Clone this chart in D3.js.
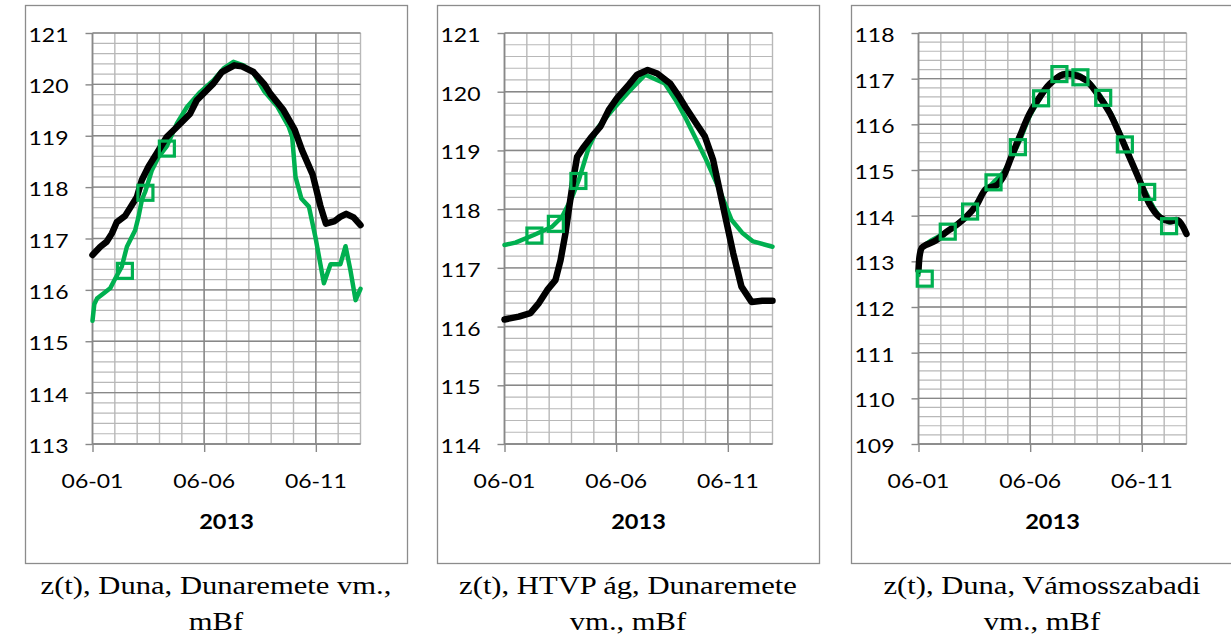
<!DOCTYPE html>
<html>
<head>
<meta charset="utf-8">
<script src="https://cdn.jsdelivr.net/npm/d3@7"></script>
<style>
  html, body { margin: 0; padding: 0; background: #fff; }
  svg { display: block; }
</style>
</head>
<body>
<svg id="chart" width="1231" height="639"></svg>
<script>
// ---------------- DATA (day offset from 06-01, water level mBf) ----------------
const xTickDays = [0, 5, 10];
const xTickLabels = ["06-01", "06-06", "06-11"];
const xTitle = "2013";

// Panel 1: Duna, Dunaremete
const p1Measured = [[0,116.68],[0.35,116.84],[0.64,116.94],[0.87,117.10],[1.09,117.32],[1.46,117.44],[1.76,117.65],[1.99,117.81],[2.21,118.14],[2.51,118.40],[2.88,118.66],[3.33,118.98],[3.78,119.17],[4.37,119.43],[4.67,119.69],[5.42,120.02],[5.79,120.24],[6.35,120.37],[6.69,120.35],[7.21,120.24],[7.70,120.00],[7.96,119.82],[8.55,119.50],[9.05,119.12],[9.38,118.72],[9.86,118.24],[10.20,117.64],[10.45,117.29],[10.85,117.34],[11.09,117.42],[11.36,117.48],[11.69,117.41],[12,117.26]];
const p1Model = [[0,115.40],[0.08,115.72],[0.2,115.83],[0.49,115.93],[0.79,116.03],[1.02,116.22],[1.31,116.45],[1.54,116.84],[1.91,117.16],[2.06,117.42],[2.21,117.75],[2.36,117.91],[2.66,118.33],[2.96,118.59],[3.33,118.80],[3.78,119.24],[4.23,119.56],[4.82,119.85],[5.42,120.08],[5.87,120.31],[6.31,120.44],[6.76,120.37],[7.21,120.22],[7.70,119.86],[8.26,119.58],[8.79,119.17],[8.94,118.98],[9.09,118.20],[9.35,117.78],[9.69,117.62],[9.98,117.03],[10.36,116.13],[10.66,116.50],[11.10,116.50],[11.33,116.85],[11.55,116.38],[11.78,115.80],[12,116.02]];
const p1Points = [[1.45,116.37],[2.37,117.89],[3.33,118.75]];

// Panel 2: HTVP ág, Dunaremete
const p2Measured = [[0,116.12],[0.64,116.17],[1.16,116.23],[1.54,116.40],[1.91,116.62],[2.28,116.79],[2.51,117.13],[2.73,117.59],[2.88,117.99],[3.10,118.55],[3.25,118.89],[3.55,119.06],[3.85,119.21],[4.30,119.41],[4.67,119.69],[5.04,119.89],[5.57,120.12],[5.94,120.29],[6.41,120.37],[6.84,120.31],[7.42,120.14],[7.81,119.92],[8.10,119.74],[8.60,119.45],[8.97,119.24],[9.34,118.84],[9.79,118.04],[10.24,117.25],[10.61,116.68],[11.06,116.42],[11.54,116.44],[12,116.44]];
const p2Model = [[0,117.39],[0.49,117.43],[1.31,117.56],[2.13,117.70],[2.58,117.87],[3.03,118.21],[3.33,118.50],[3.78,119.06],[4.22,119.41],[4.97,119.75],[5.64,120.03],[6.30,120.29],[7.18,120.14],[7.66,119.86],[8.07,119.58],[8.50,119.25],[8.97,118.89],[9.57,118.38],[10.16,117.82],[10.64,117.60],[11.13,117.45],[12,117.36]];
const p2Points = [[1.34,117.55],[2.30,117.75],[3.31,118.48]];

// Panel 3: Duna, Vámosszabadi
const p3Measured = [[0,112.80],[0.06,113.15],[0.15,113.30],[0.34,113.36],[0.79,113.46],[1.24,113.64],[1.69,113.79],[2.13,113.97],[2.58,114.22],[3.03,114.59],[3.48,114.66],[3.78,114.84],[4.15,115.28],[4.52,115.72],[4.97,116.23],[5.42,116.59],[5.87,116.88],[6.46,117.09],[6.91,117.09],[7.51,116.96],[7.96,116.70],[8.55,116.26],[9.00,115.79],[9.45,115.28],[9.90,114.77],[10.34,114.26],[10.79,113.97],[11.24,113.88],[11.61,113.90],[12,113.60]];
const p3Model = [[0,112.70],[0.12,113.25],[0.40,113.40],[1.31,113.66],[2.31,114.09],[2.90,114.50],[3.36,114.73],[3.80,114.95],[4.45,115.55],[5.00,116.20],[5.49,116.60],[6.00,116.95],[6.50,117.12],[7.00,117.12],[7.50,116.98],[8.00,116.72],[8.60,116.25],[9.24,115.56],[9.70,115.00],[10.24,114.45],[10.70,114.05],[11.22,113.85],[11.60,113.88],[12,113.60]];
const p3Points = [[0.28,112.62],[1.31,113.65],[2.31,114.09],[3.36,114.73],[4.45,115.50],[5.49,116.57],[6.31,117.10],[7.25,117.03],[8.27,116.58],[9.24,115.56],[10.24,114.52],[11.22,113.77]];

const yDomains = [[113,121],[114,121],[109,118]];
const captions = [
  ["z(t), Duna, Dunaremete vm.,", "mBf"],
  ["z(t), HTVP ág, Dunaremete", "vm., mBf"],
  ["z(t), Duna, Vámosszabadi", "vm., mBf"]
];

// ---------------- LAYOUT ----------------
const frameLefts = [25, 437, 851];
const frameW = 382, frameTop = 5, frameBottom = 563;
const plotOffset = 67.5, plotW = 268, plotTop = 33, plotBottom = 444;
const GREEN = "#00B050";
const sx = 1.15; // horizontal text stretch of the original

const series = [
  {measured: p1Measured, model: p1Model, points: p1Points},
  {measured: p2Measured, model: p2Model, points: p2Points},
  {measured: p3Measured, model: p3Model, points: p3Points}
];

const svg = d3.select("#chart");

series.forEach((s, i) => {
  const fl = frameLefts[i];
  const pl = fl + plotOffset;
  const g = svg.append("g");

  // frame
  g.append("rect").attr("x", fl + 0.5).attr("y", frameTop + 0.5)
    .attr("width", frameW).attr("height", frameBottom - frameTop)
    .attr("fill", "none").attr("stroke", "#8c8c8c").attr("stroke-width", 1.3);

  const x = d3.scaleLinear().domain([0, 12]).range([pl, pl + plotW]);
  const y = d3.scaleLinear().domain(yDomains[i]).range([plotBottom, plotTop]);

  const [y0, y1] = yDomains[i];
  const minorY = d3.range(Math.round((y1 - y0) * 5) + 1).map(k => y0 + k * 0.2);
  const majorY = d3.range(y0, y1 + 1);
  const days = d3.range(0, 13);

  // minor gridlines
  g.append("g").selectAll("line").data(minorY).join("line")
    .attr("x1", pl).attr("x2", pl + plotW)
    .attr("y1", d => y(d)).attr("y2", d => y(d))
    .attr("stroke", "#b8b8b8").attr("stroke-width", 1.2);
  g.append("g").selectAll("line").data(days).join("line")
    .attr("x1", d => x(d)).attr("x2", d => x(d))
    .attr("y1", plotTop).attr("y2", plotBottom)
    .attr("stroke", "#b8b8b8").attr("stroke-width", 1.4);
  // major gridlines
  g.append("g").selectAll("line").data(majorY).join("line")
    .attr("x1", pl).attr("x2", pl + plotW)
    .attr("y1", d => y(d)).attr("y2", d => y(d))
    .attr("stroke", "#888").attr("stroke-width", 1.4);
  g.append("g").selectAll("line").data(xTickDays).join("line")
    .attr("x1", d => x(d)).attr("x2", d => x(d))
    .attr("y1", plotTop).attr("y2", plotBottom)
    .attr("stroke", "#888").attr("stroke-width", 1.4);

  // axes
  const yAxis = d3.axisLeft(y).tickValues(majorY).tickSize(7).tickFormat("");
  const ya = g.append("g").attr("transform", `translate(${pl},0)`).call(yAxis);
  const xAxis = d3.axisBottom(x).tickValues(xTickDays).tickSize(8).tickFormat("");
  const xa = g.append("g").attr("transform", `translate(0,${plotBottom})`).call(xAxis);
  [ya, xa].forEach(a => {
    a.select(".domain").attr("stroke", "#888").attr("stroke-width", 1.4);
    a.selectAll(".tick line").attr("stroke", "#888").attr("stroke-width", 1.4);
  });
  ya.select(".domain").attr("d", `M0,${plotTop}V${plotBottom}`);
  xa.select(".domain").attr("d", `M${pl},0H${pl + plotW}`);

  // y tick labels
  g.append("g").selectAll("text").data(majorY).join("text")
    .attr("transform", d => `translate(${pl - 24},${y(d) + 9}) scale(${sx},1)`)
    .attr("text-anchor", "end")
    .attr("font-family", "Lato, 'Open Sans', sans-serif")
    .attr("font-size", 20).attr("fill", "#000")
    .text(d => d);
  // x tick labels
  g.append("g").selectAll("text").data(xTickDays).join("text")
    .attr("transform", (d, k) => `translate(${x(d)},488) scale(${sx},1)`)
    .attr("text-anchor", "middle")
    .attr("font-family", "Lato, 'Open Sans', sans-serif")
    .attr("font-size", 20).attr("fill", "#000")
    .text((d, k) => xTickLabels[k]);
  // x title
  g.append("text")
    .attr("transform", `translate(${pl + plotW / 2},529) scale(${sx},1)`)
    .attr("text-anchor", "middle")
    .attr("font-family", "Lato, 'Open Sans', sans-serif")
    .attr("font-weight", "bold")
    .attr("font-size", 20.5).attr("fill", "#000")
    .text(xTitle);

  // lines
  const line = d3.line().x(d => x(d[0])).y(d => y(d[1]))
    .curve(i === 2 ? d3.curveCatmullRom : d3.curveLinear);
  g.append("path").datum(s.model).attr("d", line)
    .attr("fill", "none").attr("stroke", GREEN).attr("stroke-width", 4.5)
    .attr("stroke-linejoin", "round").attr("stroke-linecap", "round");
  g.append("path").datum(s.measured).attr("d", line)
    .attr("fill", "none").attr("stroke", "#000").attr("stroke-width", 6.5)
    .attr("stroke-linejoin", "round").attr("stroke-linecap", "round");

  // markers
  const ms = 15;
  g.append("g").selectAll("rect").data(s.points).join("rect")
    .attr("x", d => x(d[0]) - ms / 2).attr("y", d => y(d[1]) - ms / 2)
    .attr("width", ms).attr("height", ms)
    .attr("fill", "none").attr("stroke", GREEN).attr("stroke-width", 3.2);

  // caption
  const cx = fl + frameW / 2;
  g.append("g").selectAll("text").data(captions[i]).join("text")
    .attr("transform", (d, k) => `translate(${cx},${594 + k * 36}) scale(1.2,1)`)
    .attr("text-anchor", "middle")
    .attr("font-family", "'Liberation Serif', 'Times New Roman', serif")
    .attr("font-size", 25.5).attr("fill", "#000")
    .text(d => d);
});
</script>
</body>
</html>
